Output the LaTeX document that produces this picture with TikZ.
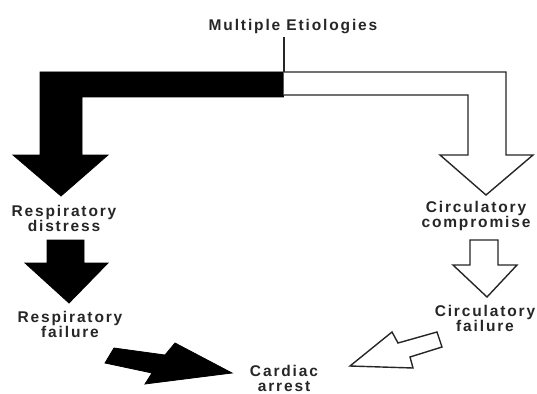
\documentclass[tikz,border=0pt]{standalone}
\usepackage{fontspec}
\newfontfamily\lab[LetterSpace=12]{Liberation Sans}
\begin{document}
\begin{tikzpicture}[x=1pt,y=-1pt,
  lbl/.style={font=\lab\bfseries\fontsize{15.5}{14.5}\selectfont, text=black!85, align=center, anchor=base, inner sep=0pt},
  blackarrow/.style={fill=black, draw=black, line width=0.8pt, line join=miter},
  whitearrow/.style={fill=white, draw=black!85, line width=1.4pt, line join=miter}]
\useasboundingbox[fill=white] (0,0) rectangle (537,393);

% labels (anchor = baseline of the last line)
\node[lbl] (me) at (293,31) {Multiple Etiologies};
\node[lbl] (rd) at (64,231) {Respiratory\\distress};
\node[lbl] (cc) at (476,227) {Circulatory\\compromise};
\node[lbl] (rf) at (70,337) {Respiratory\\failure};
\node[lbl] (cf) at (485,331) {Circulatory\\failure};
\node[lbl] (ca) at (284,391) {Cardiac\\arrest};

% junction of the two branches
\coordinate (junction) at (283.5,72);
\draw[line width=2pt, black!85] (283.5,37) -- (junction);

% black L-shaped arrow (left branch)
\fill[blackarrow] (junction) -- (40,72) -- (40,155) -- (13,155) -- (61,196)
  -- (108,155) -- (82,155) -- (82,97) -- (283.5,97) -- cycle;

% white L-shaped arrow (right branch)
\draw[whitearrow] (junction) -- (506,72) -- (506,155) -- (533,155) -- (486,195)
  -- (440,155) -- (468,155) -- (468,95) -- (283.5,95);

% black arrow: distress -> failure
\fill[blackarrow] (47,240) -- (84,240) -- (84,263) -- (108,263) -- (69,303)
  -- (25,263) -- (47,263) -- cycle;

% white arrow: compromise -> failure
\draw[whitearrow] (470,240) -- (498,240) -- (498,265) -- (517,265) -- (487,297)
  -- (453,265) -- (470,265) -- cycle;

% black diagonal arrow: respiratory failure -> cardiac arrest
\fill[blackarrow] (105,363) -- (114,348) -- (165,355) -- (175,343) -- (232,373)
  -- (145,384) -- (152,373) -- cycle;

% white diagonal arrow: circulatory failure -> cardiac arrest
\draw[whitearrow] (350,366) -- (392,332) -- (398,343) -- (437,332) -- (442,347)
  -- (410,357) -- (413,368) -- cycle;
\end{tikzpicture}
\end{document}
